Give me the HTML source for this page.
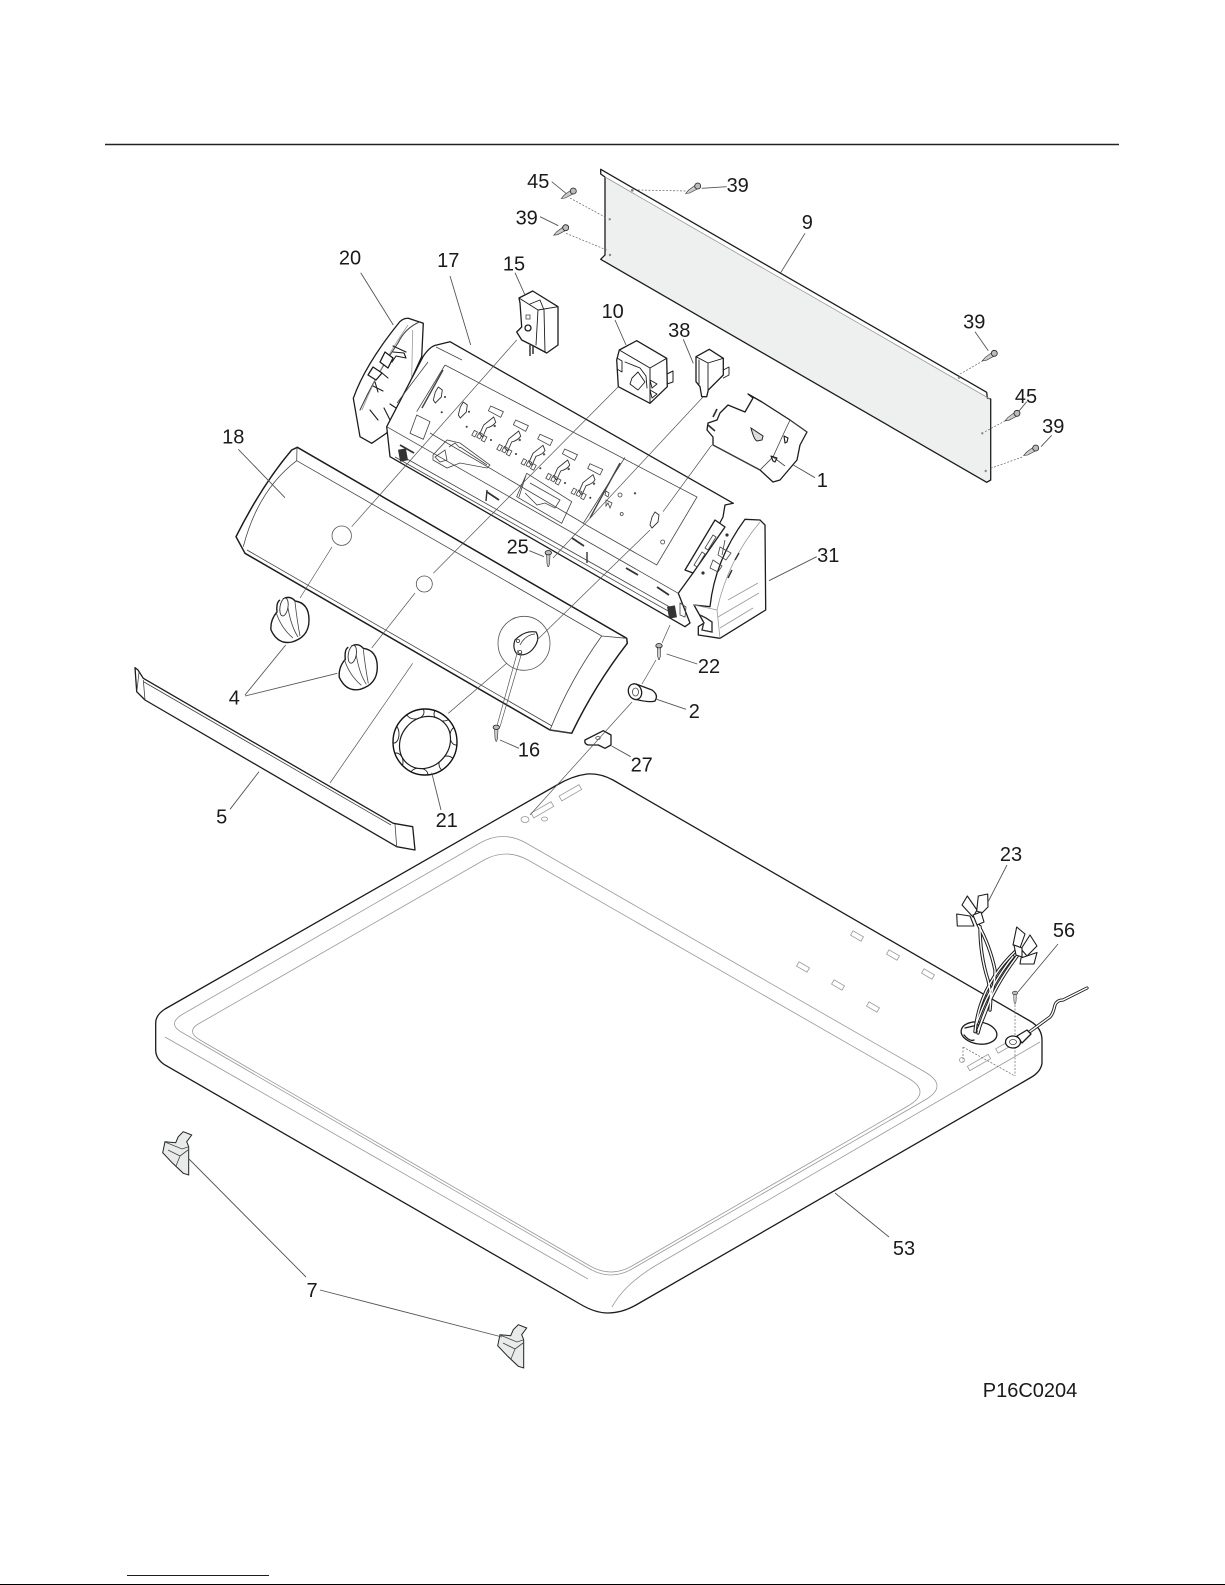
<!DOCTYPE html>
<html><head><meta charset="utf-8"><title>P16C0204</title>
<style>
html,body{margin:0;padding:0;background:#fff}
svg{display:block}
text{font-family:"Liberation Sans",sans-serif;font-size:20px;fill:#1a1a1a;text-anchor:middle}
.k{fill:none;stroke:#1c1c1c;stroke-width:1.3;stroke-linejoin:round;stroke-linecap:round}
.w{fill:#fff;stroke:#1c1c1c;stroke-width:1.3;stroke-linejoin:round}
.g{fill:none;stroke:#999;stroke-width:.8}
.t{fill:none;stroke:#444;stroke-width:.8}
.l{fill:none;stroke:#555;stroke-width:.9}
.d{fill:none;stroke:#666;stroke-width:.7;stroke-dasharray:2 1.5}
.m{fill:none;stroke:#333;stroke-width:2.2}
</style></head><body>
<svg width="1225" height="1585" viewBox="0 0 1225 1585" xmlns="http://www.w3.org/2000/svg">
<defs>
<g id="scr"><path d="M-12 7.5L-9 4-1.5-1.5 1.500 2-8 7Z" fill="#ccc" stroke="#333" stroke-width=".6"/><circle r="3" fill="#bbb" stroke="#222" stroke-width=".8"/></g>
<g id="vs"><path d="M-1.700 2L1.700 2 1.300 11 .3 14-.3 14-1.300 11Z" fill="#ccc" stroke="#333" stroke-width=".6"/><ellipse rx="3.200" ry="2.200" fill="#bbb" stroke="#222" stroke-width=".8"/></g>
<g id="ctl"><path d="M-6-5L6.700.7 4 6.300-8.300-.3Z" class="t"/><path d="M-3 6L-1 11Q-3 15-10 17L-14 26-17 23-13 14-8 10Z" fill="#fff" stroke="#333" stroke-width=".9"/><rect x="-24" y="20" width="3.500" height="5.500" class="t" transform="rotate(28 -22 23)"/><rect x="-19" y="22" width="3.500" height="5.500" class="t" transform="rotate(28 -17 25)"/><rect x="-14.500" y="25" width="3.500" height="5.500" class="t" transform="rotate(28 -12.500 28)"/><circle cx="-5.700" cy="29" r="1" fill="#333"/><circle cx="-2" cy="15" r="1.200" fill="#555"/></g>
<g id="dia"><path d="M0-8L4-5 3 2-3 8-5 5-3-3Z" fill="#fff" stroke="#333" stroke-width=".9"/></g>
<g id="knob"><path d="M-7-21Q0-25 5-19 19-17 19 0 19 17 2 22-12 25-19 10-20 0-13-8-14-18-10-20-7-21Z" fill="#fff" stroke="#1c1c1c" stroke-width="1.400"/><ellipse cx="-6" cy="-13" rx="4" ry="9" fill="#fff" stroke="#333" stroke-width=".9" transform="rotate(10 -6 -13)"/><path d="M-14-8Q-9 8 3 18M-2-12Q1 6 8 17M5-18Q7 0 10 16" class="t"/></g>
<g id="clip7"><path d="M165 1141.700L175.700 1142.700 178.300 1136.700 183.300 1131.700 191.700 1135 186.700 1141.700 188.700 1146.700 188.700 1175 183.300 1173.300 172.700 1163.300 162.700 1152.700Z" fill="#e9ebeb" stroke="#222" stroke-width="1"/><path d="M165 1142L182 1149 188 1147M168 1150L180 1156 176 1166M180 1156L188 1150" class="t"/></g>
<clipPath id="dc"><ellipse cx="425" cy="742" rx="32" ry="33"/></clipPath>
</defs>

<line x1="105" y1="144.500" x2="1119" y2="144.500" stroke="#222" stroke-width="1.400"/>

<!-- panel 9 -->
<path d="M605 177L990.700 399 990.700 480 986.700 482.300 605 262Z" fill="#eef0f0"/>
<path d="M600.700 169.300L986.700 392.300 987.300 398 990.700 399 990.700 480 986.700 482.300 600.700 259.300 605 255 605 177 600.700 174Z" class="k"/>
<path d="M605 177L990 399" class="g"/>
<circle cx="609.700" cy="219.300" r="1.200" fill="#888"/><circle cx="610" cy="255" r="1.200" fill="#888"/><circle cx="632.300" cy="190.300" r="1.400" fill="#888"/><circle cx="959" cy="377.700" r="1.200" fill="#888"/><circle cx="982.300" cy="433.300" r="1.200" fill="#888"/><circle cx="985.700" cy="471" r="1.200" fill="#888"/>
<use href="#scr" x="573.300" y="191"/><use href="#scr" x="565.700" y="227.700"/><use href="#scr" x="697.700" y="186"/><use href="#scr" x="994.300" y="353.300"/><use href="#scr" x="1017" y="413.300"/><use href="#scr" x="1035.700" y="448"/>
<path d="M570 198L606.700 218M566 233.300L606.700 250M638 190L686.700 191M960 374L982.700 361M985 431.700L1006.700 420M990.700 468.300L1023.300 456.700" class="d"/>

<!-- end cap 20 -->
<path d="M423.300 323.300L408.300 318.300Q402 318 398 324 365 365 353.300 398.300L360 436.700 371.700 443.300 386.700 433 421.700 356.700Z" class="w"/>
<path d="M420 321.700Q405 328 398 343 376 375 360 410" class="k" style="stroke-width:1.100;stroke:#444"/>
<path d="M412.700 330L411.700 376.700M408 325Q380 365 362 410" class="g"/>
<path d="M385 352L393 358 388 368 380 362ZM373 367L382 373 376 380 368 375Z" class="w"/>
<path d="M393 346L406 352M393 352L404 353 406 358 396 356 392 362M373 386L383 391M375 382L378 392M382 373L388 378M370 410L378 420M390 404L396 408M384 408L390 420" class="k" style="stroke-width:1.100"/>

<!-- main panel 17 -->
<path d="M450 341.700L733.300 503.300 725 505 723 517 693 573 680 593 690 623 685 626.700 390 456.700 386.700 426.700 423 356.700Q430 346 436.700 345Z" fill="#fff" stroke="none"/>
<path d="M423 356.700Q430 346 436.700 345L450 341.700 733.300 503.300 725 505 723 517 693 573 678.300 593.300 690 623 685 626.700 390 456.700 386.700 426.700 423 356.700" class="k"/>
<path d="M386.700 426.700L678.300 593.300M395 457L670 612M400 455L675 610M428 362L397 403M436 347L462 360" class="t"/>
<path d="M445 365L416.700 411.700M445 365L697 497 656.700 565 583.300 523.300 625 457.300M430 433L583 523M416.700 415L430 421.700 423.300 439.300 410 433.300Z" class="t"/>
<path d="M443 370L422 408M620 463L590 518" class="t" style="stroke-width:1.400"/>
<path d="M526.700 473.300L571.700 501.700 561.700 523.300 516.700 496.700ZM526 475L519 497M530 483L560 500 555 508 545 503 537 505 525 493" class="t"/>
<use href="#ctl" x="496.700" y="411"/><use href="#ctl" x="521.700" y="425"/><use href="#ctl" x="546" y="439.300"/><use href="#ctl" x="570.700" y="454"/><use href="#ctl" x="596" y="468.700"/>
<use href="#dia" x="438.300" y="395"/><use href="#dia" x="463.300" y="410"/><use href="#dia" x="655" y="520"/>
<circle cx="445" cy="397" r="1" fill="#333"/><circle cx="441.700" cy="412.300" r="1" fill="#333"/><circle cx="469" cy="411.700" r="1" fill="#333"/><circle cx="466.700" cy="426.700" r="1" fill="#333"/>
<circle cx="620" cy="495" r="2" class="t"/><circle cx="621.700" cy="514" r="1.500" class="t"/><circle cx="662.700" cy="542" r="2" class="t"/><circle cx="635" cy="493.300" r="1.200" fill="#555"/>
<path d="M606 491L609 493 608 497 605 495ZM606 500L612 503 610 508 608 503 606 506Z" class="t"/>
<path d="M433 455L447 440 460 443 490 465 487 468 460 463 447 468 433 460ZM435 457L445 450 447 460 440 462ZM449 447L455 443 460 448M460 447L487 465" class="t"/>
<path d="M400 445L414 453M487 492L499 500M572 538L584 546M626 568L638 575M657 587L669 595" class="m" style="stroke-width:1.800"/>
<path d="M487 490L486 501M587 552L587 563" stroke="#333" stroke-width="1.400" fill="none"/>
<rect x="399" y="449" width="8" height="12" fill="#333" transform="rotate(-10 403 455)"/><rect x="668" y="606" width="8" height="12" fill="#333" transform="rotate(-10 672 612)"/>
<path d="M680 603L686 607 685 617 680 615Z" class="t"/>
<path d="M715 520L725 527 693 573 685 570Z" class="w"/>
<path d="M713 535L705 548 708 550 716 537ZM702 552L694 565 697 567 705 554Z" class="t"/>

<!-- end cap 31 -->
<path d="M745 519.300L760 520 765 525 765.700 610 720 638.300 698.300 635 698.300 626.700 704 623 694 605 710 606.700Q715 560 745 519.300Z" class="w"/>
<path d="M760 522Q728 560 717 610M694 605L717 610 720 638.300M728 600L758 583M718 617L759 593M720 628L753 608" class="g"/>
<path d="M735 560L739 553M728 578L732 570M700 615L706 618 712 622 712 632 702 630 704 622" class="m" style="stroke-width:1.400"/>
<path d="M725 540L722 555M720 547L731 553 726 560 718 555ZM713 560L722 566 718 572 710 568Z" class="t"/>
<circle cx="727" cy="535" r="1.600" fill="#333"/><circle cx="703" cy="573" r="1.600" fill="#333"/>

<!-- part 1 -->
<path d="M748 394L762 402 790 420 807 432 800 445 797 460 780 480 773 482 760 470 713 445 713 437 707 430 708 423 717 420 720 413 728 405 745 412 753 398Z" class="w"/>
<path d="M790 420L783 435 773 457 760 470M790 420L807 432M713 445L760 470M773 457L785 466" class="t"/>
<path d="M751 428L763 436 762 440 757 441Q754 440 751 428Z" fill="#ddd" stroke="#222"/>
<path d="M784 436L788 438 787 442 785 443ZM771 456L777 458 775 462 773 461Z" class="k" style="stroke-width:1.100"/><path d="M713 417L717 409M708 425L715 431" class="m" style="stroke-width:1.700"/>

<!-- part 15 -->
<path d="M519 298L532.700 291 558 306.700 558 345 546.700 353 531.700 345 521.700 340 516.700 332 521.700 327 520 303Z" class="w"/>
<path d="M519 298L538 310 558 306.700M538 310L536 345M544 310L545 352M530 304L540 300 544 310" class="k" style="stroke-width:.9"/>
<rect x="526" y="315" width="4" height="4" class="t"/><circle cx="528" cy="328" r="3" class="k"/><path d="M530 345V356M533 345V354" class="m" style="stroke-width:1.500"/>

<!-- part 10 -->
<path d="M619.300 350L636.700 340.700 666.700 358.300 667.300 386.700 650 403.300 618.300 386.700 616.700 360Z" class="w"/>
<path d="M619.300 350L650 368 666.700 358.300M650 368V403M667 374L673 371 673 382 667 384" class="k" style="stroke-width:1"/>
<path d="M625 362L640 368 646 376 647 388M632 378L638 372 645 382 638 390 630 384ZM650 380L657 384 652 388ZM650 390L657 394 652 398ZM617 358L622 361 622 372 617 369" class="k" style="stroke-width:.9"/>
<!-- part 38 -->
<path d="M696 356.700L709.300 349.300 723.300 358.300 723.300 375 708.300 390 706.700 396.700 701.700 396.700 700 386.700 696 381.700Z" class="w"/>
<path d="M696 356.700L708 363 723.300 358.300M708 363V390M723.300 370L729 367 729 375 723.300 378M699 360V384" class="k" style="stroke-width:.9"/>

<!-- face 18 -->
<path d="M297.300 447.300L291.700 450Q262 485 236 536.700L245 553.300 550 730 571.700 733.300Q595 685 627.300 643.300L626.700 638.300Z" class="w" style="stroke-width:1.500"/>
<path d="M296.700 460.700L601.700 636M297 447.500L296.700 460.700Q258 490 243.300 546.700M601.700 636L626.700 638.300M601.700 636Q570 680 550 730L571.700 733.300M247 550L552 726" class="t"/>
<circle cx="341.700" cy="535.700" r="9.700" class="g" style="stroke:#555"/><circle cx="424.300" cy="584" r="8" class="g" style="stroke:#555"/>
<ellipse cx="524" cy="643.300" rx="26" ry="27" class="g" style="stroke:#555"/>
<path d="M515 640Q525 630 536 632 541 640 532 650 525 657 517 654 512 648 515 640Z" fill="#fff" stroke="#222" stroke-width="1.200"/>
<path d="M520 645Q525 635 535 634" class="t"/><circle cx="518" cy="641" r="1.600" class="t"/><circle cx="520" cy="652" r="1.600" class="t"/>

<!-- part 2 -->
<path d="M636 684L652 690Q659 695 655 701 650 703 634 699Z" class="w"/>
<ellipse cx="635" cy="691.700" rx="6.500" ry="8" class="w" transform="rotate(-20 635 691.700)"/><ellipse cx="635.500" cy="692" rx="3" ry="4" class="t"/>
<!-- part 27 -->
<path d="M585 740L603.300 730.700 611 735 611 745 605 748.300 598.300 745 588.300 745Q584 744 585 740Z" class="w"/><ellipse cx="598" cy="738" rx="2.200" ry="1.500" class="t"/>

<!-- deck 53 -->
<path d="M165 1009L557 785Q572 776 587 774 600 773 613 780L1030 1021Q1042 1028 1042 1040L1042 1063Q1041 1072 1030 1078L636 1305Q622 1313 608 1313 595 1313 580 1304L165 1065Q155.700 1059 155.700 1050L155.700 1023Q155.700 1015 165 1009Z" fill="#fff" stroke="#1c1c1c" stroke-width="1.300"/>
<path d="M183 1014L480 843Q503 830 526 843L925 1072Q949 1086 925 1100L632 1269Q611 1281 590 1269L183 1033Q166 1024 183 1014Z" class="g"/>
<path d="M200 1023L484 860Q506 848 528 860L908 1078Q932 1092 908 1106L632 1266Q611 1278 590 1266L200 1040Q185 1031 200 1023Z" class="g"/>
<path d="M165 1037L588 1279M1040 1042L660 1263Q625 1283 612 1307" class="g"/>
<g class="g">
<rect x="851" y="933.500" width="12" height="5" transform="rotate(30 857 936)"/><rect x="887" y="952.500" width="12" height="5" transform="rotate(30 893 955)"/><rect x="922" y="971.500" width="12" height="5" transform="rotate(30 928 974)"/><rect x="797" y="964.500" width="12" height="5" transform="rotate(30 803 967)"/><rect x="832" y="982.500" width="12" height="5" transform="rotate(30 838 985)"/><rect x="867" y="1004.500" width="12" height="5" transform="rotate(30 873 1007)"/>
<rect x="559" y="790" width="23" height="5.500" transform="rotate(-30 570.500 793)"/><rect x="531" y="807" width="23" height="5.500" transform="rotate(-30 542.500 810)"/>
<ellipse cx="525" cy="819.500" rx="4" ry="3"/><ellipse cx="544.500" cy="819" rx="3" ry="2"/>
<rect x="967" y="1060" width="24" height="5" transform="rotate(-30 979 1062.500)"/><rect x="996" y="1045" width="14" height="5" transform="rotate(-30 1003 1047.500)"/><circle cx="962" cy="1060" r="2.500"/>
</g>
<path d="M963 1047V1062M963 1047L1015 1076M1015 1005V1076" class="d"/>

<!-- assembly leaders (over face and deck) -->
<path d="M516.700 340L351.700 526.700M332 547L300 598M618.300 386.700L433.300 573.300M415 593L371.700 648M412.700 663.300L330 783M703 397L553 558M711.700 445L663 511.700M650 530L537 640M518 650L496.700 726.700M522 652L500 726.700M507 663L448.300 713.300" class="l" style="stroke-width:.7"/>
<path d="M670 625L662 643M656 660L642 684M632 702L530 815" class="l" style="stroke-width:.7"/>

<use href="#knob" x="290" y="620"/><use href="#knob" x="358.300" y="667.300"/>
<use href="#vs" x="548.300" y="552.700"/><use href="#vs" x="659" y="645.700"/><use href="#vs" x="496.300" y="727.300"/>

<!-- dial 21 -->
<ellipse cx="425" cy="742" rx="32" ry="33" fill="#fff"/>
<g clip-path="url(#dc)" fill="#fff" stroke="#1c1c1c" stroke-width=".9">
<ellipse cx="415" cy="712" rx="9" ry="7"/><ellipse cx="443" cy="714" rx="9" ry="7"/><ellipse cx="456" cy="736" rx="6" ry="9"/><ellipse cx="447" cy="764" rx="8" ry="8"/><ellipse cx="419" cy="775" rx="9" ry="7"/><ellipse cx="396" cy="762" rx="7" ry="9"/><ellipse cx="394" cy="734" rx="5" ry="9"/>
</g>
<ellipse cx="425" cy="742" rx="32" ry="33" fill="none" stroke="#111" stroke-width="1.400"/>
<ellipse cx="425" cy="742.500" rx="24" ry="27.500" fill="#fff" stroke="#1c1c1c" stroke-width="1.200" transform="rotate(40 425 742.500)"/>

<!-- trim 5 -->
<path d="M135 667.700L136.700 691.700 145 700 396.700 846.700 415 850 412.700 826.700 393.300 823.300 143.300 678.300 138 670Z" class="w"/>
<path d="M143.300 680L145 700M395 824L396.700 846.700M144 682L391 825M139 672L137 690" class="t"/>

<!-- hole + wires -->
<ellipse cx="979" cy="1033" rx="18" ry="11" fill="#fff" stroke="#1c1c1c" stroke-width="1.300" transform="rotate(8 979 1033)"/>
<path d="M965 1028L982 1024M964 1035Q970 1042 974 1040" class="k"/>
<g fill="none" stroke-linecap="round">
<g stroke="#1c1c1c" stroke-width="3.400">
<path d="M978.300 925Q990 946 995 970 996 990 978 1030"/><path d="M980 926.700Q980 955 988 980 992 995 990 1010"/><path d="M1016.700 950Q990 975 980 1006.700 976 1020 975 1031.700"/><path d="M1018 955Q995 985 983 1016.700 980 1025 978 1033"/><path d="M1013 956.700Q990 985 976.700 1023"/>
</g>
<g stroke="#fff" stroke-width="1.400">
<path d="M978.300 925Q990 946 995 970 996 990 978 1030"/><path d="M980 926.700Q980 955 988 980 992 995 990 1010"/><path d="M1016.700 950Q990 975 980 1006.700 976 1020 975 1031.700"/><path d="M1018 955Q995 985 983 1016.700 980 1025 978 1033"/><path d="M1013 956.700Q990 985 976.700 1023"/>
</g></g>
<g fill="#fff" stroke="#1c1c1c" stroke-width="1.100" stroke-linejoin="round">
<path d="M962 905L967.300 896 977 910 973 917Z"/><path d="M976.700 911L978.300 896 987.700 894 988 907 982 913Z"/><path d="M956.700 914L970 916 974 926 957.300 926Z"/>
<path d="M1013 945L1016.700 927 1025 934 1020 948Z"/><path d="M1021 949L1030 935 1037 946 1027 956Z"/><path d="M1021 958L1037 952.500 1034 964 1020 964Z"/>
<path d="M973 915L981 912 984 922 977 925ZM1014 945L1022 948 1022 957 1016 955Z"/>
</g>
<!-- ground wire -->
<path d="M1028 1033L1050 1017Q1053 1014 1055 1005 1057 1000 1063 1000L1087 988" fill="none" stroke="#1c1c1c" stroke-width="3.200" stroke-linecap="round"/>
<path d="M1028 1033L1050 1017Q1053 1014 1055 1005 1057 1000 1063 1000L1087 988" fill="none" stroke="#fff" stroke-width="1.400" stroke-linecap="round"/>
<path d="M1017 1036L1027 1030 1031 1034 1022 1043Z" class="w"/>
<ellipse cx="1013" cy="1042" rx="7.500" ry="6" class="w"/><ellipse cx="1013" cy="1042" rx="3.500" ry="2.500" class="t"/>
<g transform="translate(1015 993) scale(.8)"><use href="#vs"/></g>

<!-- clips 7 -->
<use href="#clip7"/><use href="#clip7" x="335" y="193"/>

<!-- label leaders -->
<path d="M551.700 181.700L566 193.300M540 216.700L558.300 225.700M726.700 186.700L701.700 188.300M805 233.300L780.700 272.700M975 331.700L988.300 350.700M1026.700 401.700L1019.300 410.700M1051.700 435.300L1041 446.700M815 477.700L793.300 465M816.700 556.700L769 580.700M697.300 664L666.700 654M360.700 272.700L393.300 325M450 276L470.700 345M515 272.700L525 295M615 320L626 345M683.300 339.300L693.300 363.300M238.300 449.300L285 497.700M529.300 550.700L544 556.700M245 695L285.700 645M245 696L337.300 673.300M519 748.300L500 740M686 709.300L656.700 699.300M630.700 756.700L611.700 746M441 810L431.700 772.700M230 809.300L259 771.700M1007 865L988 902M1058 944L1018 992M889 1237L835 1193M306 1277L189 1159M320 1290L502 1337" class="l"/>

<!-- labels -->
<text x="538.300" y="188">45</text><text x="526.700" y="224.500">39</text><text x="737.700" y="192">39</text><text x="807.300" y="229">9</text>
<text x="974.300" y="328.500">39</text><text x="1026" y="403">45</text><text x="1053.300" y="433">39</text><text x="822.300" y="487">1</text>
<text x="828.300" y="562">31</text><text x="709" y="673">22</text><text x="350" y="264.500">20</text><text x="448.300" y="267">17</text><text x="514" y="270.500">15</text>
<text x="612.700" y="318">10</text><text x="679.300" y="337">38</text><text x="233.300" y="443.500">18</text><text x="517.700" y="553.500">25</text><text x="234.300" y="704.500">4</text>
<text x="529" y="756.500">16</text><text x="694.300" y="718">2</text><text x="641.700" y="771.500">27</text><text x="446.700" y="827">21</text><text x="221.700" y="823.500">5</text>
<text x="1011" y="861">23</text><text x="1064" y="937">56</text><text x="904" y="1255">53</text><text x="312" y="1297">7</text>
<text x="1030" y="1397">P16C0204</text>

<rect x="127" y="1575" width="142" height="1" fill="#0000ff"/>
<rect x="0" y="1584" width="1225" height="1" fill="#000"/>
</svg>
</body></html>
